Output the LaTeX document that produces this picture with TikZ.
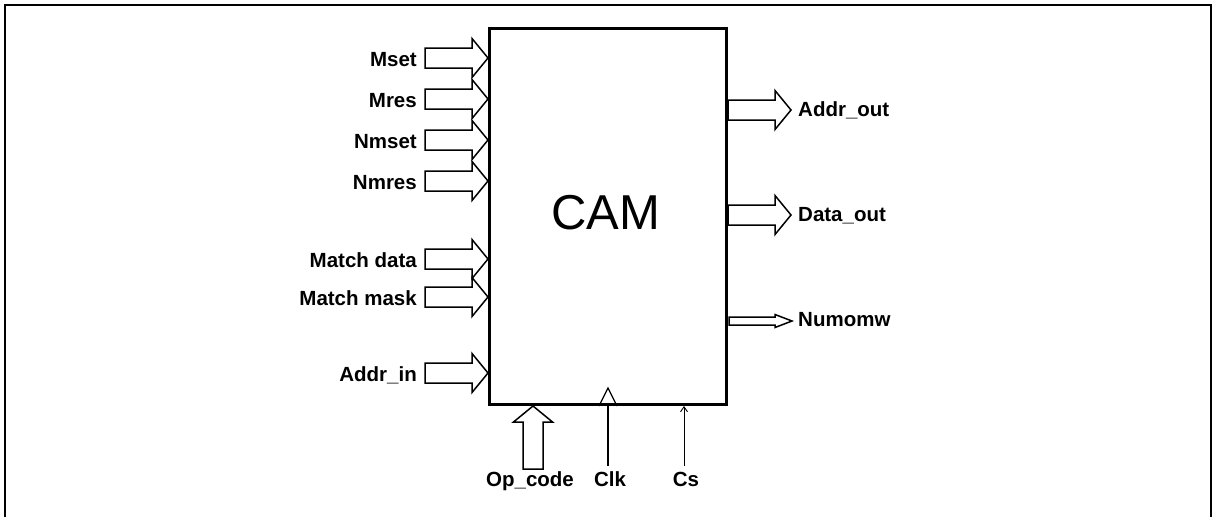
\documentclass[tikz,border=0pt]{standalone}
\usepackage{fontspec}
\setmainfont{Liberation Sans}
\usetikzlibrary{arrows.meta}
\begin{document}
\begin{tikzpicture}[x=1pt,y=-1pt,
  lbl/.style={font=\bfseries\fontsize{20.5}{23}\selectfont, inner sep=0pt},
  fat/.style={draw, line width=1.5pt, fill=white, line join=miter},
  pics/fatarrow/.style={code={\draw[fat] (-63,-10)--(-16,-10)--(-16,-19.5)--(0,0)--(-16,19.5)--(-16,10)--(-63,10)--cycle;}},
  pics/thinarrow/.style={code={\draw[fat] (-63,-4)--(-17,-4)--(-17,-6.5)--(0,0)--(-17,6.5)--(-17,4)--(-63,4)--cycle;}},
]
\useasboundingbox (0,0) rectangle (1216,517);
% frame
\draw[line width=2.5pt] (5,517) -- (5,5) -- (1211,5) -- (1211,517);
% CAM block
\node[draw, line width=3pt, minimum width=237pt, minimum height=376pt, inner sep=0pt, anchor=north west] (cam) at (488,27) {};
\node[font=\fontsize{49}{51}\selectfont, inner sep=0pt] (camlabel) at (606,213) {CAM};
% inputs
\foreach \yy/\t/\n in {58/Mset/mset, 99/Mres/mres, 140/Nmset/nmset, 181/Nmres/nmres, 259/Match data/mdata, 297/Match mask/mmask, 373/Addr\_in/addrin}{
  \coordinate (tip-\n) at (cam.west |- 0,\yy);
  \pic at (tip-\n) {fatarrow};
  \node[lbl, anchor=base east] (l-\n) at ([xshift=-71pt, yshift=-8pt]tip-\n) {\t};
}
% outputs
\foreach \yy/\t/\n in {110/Addr\_out/addrout, 215/Data\_out/dataout}{
  \coordinate (src-\n) at (cam.east |- 0,\yy);
  \coordinate (tip-\n) at ([xshift=63pt]src-\n);
  \pic at (tip-\n) {fatarrow};
  \node[lbl, anchor=base west] (l-\n) at ([xshift=7pt, yshift=-6pt]tip-\n) {\t};
}
\coordinate (src-num) at (cam.east |- 0,321);
\coordinate (tip-num) at ([xshift=64pt]src-num);
\pic at (tip-num) {thinarrow};
\node[lbl, anchor=base west] (l-num) at ([xshift=6pt, yshift=-5pt]tip-num) {Numomw};
% bottom
\coordinate (tip-op) at (cam.south -| 533,0);
\pic[rotate=90] at (tip-op) {fatarrow};
\node[lbl, anchor=base] (l-op) at (530,486) {Op\_code};
\node[lbl, anchor=base] (l-clk) at (610,486) {Clk};
\node[lbl, anchor=base] (l-cs) at (686,486) {Cs};
\coordinate (clkbot) at (608,466);
\coordinate (csbot) at (684,466);
\draw[line width=1.1pt] (clkbot) -- (clkbot |- cam.south);
\draw[line width=1.3pt, line join=miter] ([xshift=-9pt]clkbot |- cam.south) -- ([yshift=18pt]clkbot |- cam.south) -- ([xshift=9pt]clkbot |- cam.south);
\draw[line width=0.9pt, -{Straight Barb[length=5pt,width=7pt]}] (csbot) -- (csbot |- cam.south);
\end{tikzpicture}
\end{document}
